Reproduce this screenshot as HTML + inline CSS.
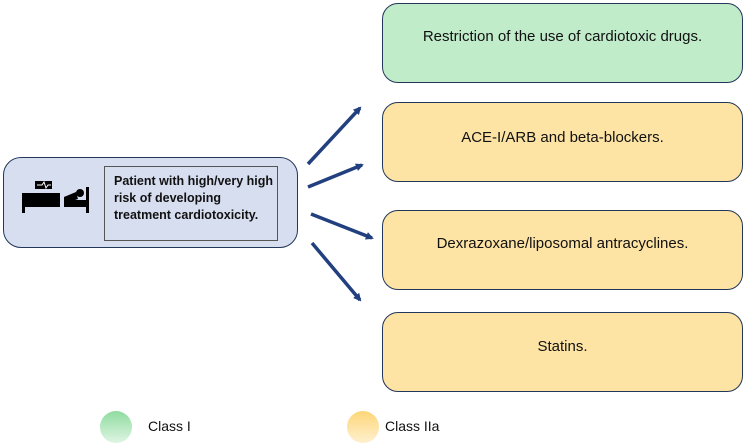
<!DOCTYPE html>
<html><head><meta charset="utf-8"><style>
body{margin:0;width:746px;height:446px;background:#fff;position:relative;font-family:"Liberation Sans",sans-serif;overflow:hidden}
.b{position:absolute;box-sizing:border-box;border:1.5px solid #23375a;border-radius:16px;text-align:center;font-size:15px;color:#111}
.g{background:#c0ecca}.y{background:#fde3a4}
</style></head><body>
<div class="b" style="left:3px;top:157px;width:295px;height:91px;background:#d7def0;border-radius:18px"></div>
<div style="position:absolute;left:104px;top:166px;width:174px;height:75px;box-sizing:border-box;border:1px solid #555;font-weight:bold;font-size:12.5px;line-height:17px;padding:6px 0 0 9px;color:#111;white-space:nowrap">Patient with high/very high<br>risk of developing<br>treatment cardiotoxicity.</div>
<svg style="position:absolute;left:0;top:0" width="746" height="446">
<rect x="35" y="181" width="17" height="8" fill="#000"/>
<polyline points="37,185 42,185 44,182 46,188 48,185 51,185" stroke="#fff" stroke-width="1" fill="none"/>
<rect x="22" y="193" width="38" height="14" fill="#000"/><rect x="22" y="193" width="3" height="20" fill="#000"/>
<circle cx="80" cy="193" r="4" fill="#000"/><polygon points="64,197 76,192 78,199 64,204" fill="#000"/>
<rect x="64" y="200" width="22" height="7" fill="#000"/><rect x="86" y="187" width="3" height="26" fill="#000"/>
<defs><marker id="a" markerWidth="8" markerHeight="8" refX="6" refY="4" orient="auto" markerUnits="userSpaceOnUse"><path d="M0,0L8,4L0,8z" fill="#22407f"/></marker></defs>
<g stroke="#22407f" stroke-width="3.5" marker-end="url(#a)">
<line x1="308" y1="164" x2="360" y2="108"/><line x1="308" y1="187" x2="362" y2="165"/>
<line x1="311" y1="214" x2="372" y2="238"/><line x1="312" y1="243" x2="360" y2="300"/></g>
<defs><linearGradient id="gg" x1="0" y1="0" x2="0" y2="1"><stop offset="0" stop-color="#8fdca0"/><stop offset="1" stop-color="#dff5e3"/></linearGradient>
<linearGradient id="yy" x1="0" y1="0" x2="0" y2="1"><stop offset="0" stop-color="#fdd678"/><stop offset="1" stop-color="#fef0cf"/></linearGradient></defs>
<circle cx="116" cy="427" r="16" fill="url(#gg)"/><circle cx="363" cy="427" r="16" fill="url(#yy)"/>
<text x="148" y="431" font-size="14" font-family="Liberation Sans" fill="#111">Class I</text>
<text x="385" y="431" font-size="14" font-family="Liberation Sans" fill="#111">Class IIa</text>
</svg>
<div class="b g" style="left:382px;top:3px;width:361px;height:80px;padding-top:24px">Restriction of the use of cardiotoxic drugs.</div>
<div class="b y" style="left:382px;top:102px;width:361px;height:80px;padding-top:26px">ACE-I/ARB and beta-blockers.</div>
<div class="b y" style="left:382px;top:210px;width:361px;height:80px;padding-top:24px">Dexrazoxane/liposomal antracyclines.</div>
<div class="b y" style="left:382px;top:312px;width:361px;height:80px;padding-top:25px">Statins.</div>
</body></html>
